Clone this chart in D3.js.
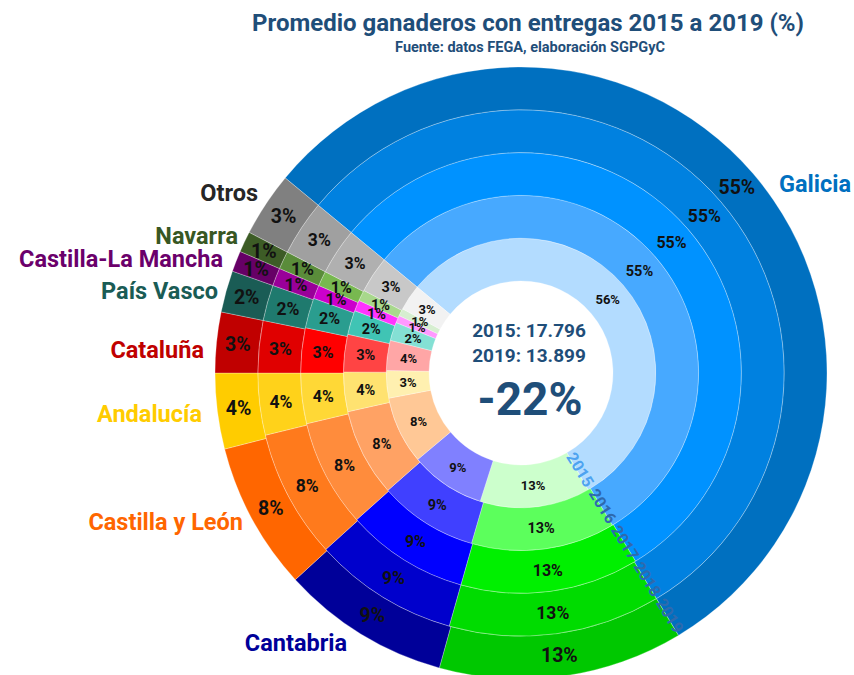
<!DOCTYPE html>
<html><head><meta charset="utf-8">
<script src="https://cdn.jsdelivr.net/npm/d3@7"></script>
<style>
html,body{margin:0;padding:0;background:#fff;}
svg{display:block;font-family:Roboto,"DejaVu Sans",sans-serif;}
</style></head>
<body>
<svg id="chart" width="854" height="675"></svg>
<script>
// ---- data ----
const categories = ["Galicia","Asturias","Cantabria","Castilla y León","Andalucía","Cataluña","País Vasco","Castilla-La Mancha","Navarra","Otros"];
const years = ["2015","2016","2017","2018","2019"];
const share2015 = [55.7,13.2,9.0,8.1,3.3,3.6,2.2,0.9,0.9,3.1];
const share2016 = [55.4,13.1,9.0,8.0,3.6,3.4,2.2,1.0,1.0,3.3];
const share2017 = [55.3,13.1,9.0,7.9,3.7,3.3,2.2,1.0,1.1,3.4];
const share2018 = [55.4,13.0,8.9,7.9,3.8,3.2,2.2,1.1,1.1,3.4];
const share2019 = [55.4,12.9,8.9,7.8,4.0,3.2,2.2,1.1,1.1,3.4];
const shares = [share2015,share2016,share2017,share2018,share2019];
const total2015 = "17.796";
const total2019 = "13.899";
const change = "-22%";

// colours per category, inner (2015) to outer (2019)
const palette = {
  "Galicia":["#B3DCFF","#47A9FF","#0092FF","#0081E0","#0070C0"],
  "Asturias":["#CCFFCC","#5CFF5C","#00F000","#00DC00","#00C800"],
  "Cantabria":["#8080FF","#4040FF","#0000FF","#0000CC","#000099"],
  "Castilla y León":["#FFC896","#FFA264","#FF8C3C","#FF7A1C","#FF6600"],
  "Andalucía":["#FFF0B0","#FFE270","#FFD836","#FFD21A","#FFCC00"],
  "Cataluña":["#FFA6A6","#FF4444","#FF0000","#E00000","#C00000"],
  "País Vasco":["#84E0D4","#40C4B4","#2A9D8F","#1F7A6E","#1A5C55"],
  "Castilla-La Mancha":["#FF99FF","#FF33FF","#CC00CC","#990099","#660066"],
  "Navarra":["#D6EED0","#A8D88C","#78B850","#5A8C3A","#3D5C26"],
  "Otros":["#F2F2F2","#C8C8C8","#B0B0B0","#A0A0A0","#808080"]
};
const labelColor = {
  "Galicia":"#0070C0","Cantabria":"#000099","Castilla y León":"#FF6600","Andalucía":"#FFCC00",
  "Cataluña":"#C00000","País Vasco":"#1A5C55","Castilla-La Mancha":"#6B006B","Navarra":"#385723","Otros":"#262626"
};
// label layout (position of category names)
const labelPos = {
  "Galicia":[779,192,"start"],"Otros":[258,201,"end"],"Navarra":[238,244,"end"],
  "Castilla-La Mancha":[223,267,"end"],"País Vasco":[218,299,"end"],"Cataluña":[204,358,"end"],
  "Andalucía":[202,422,"end"],"Castilla y León":[243,530,"end"],"Cantabria":[296,651,"middle"]
};

const svg = d3.select("#chart");
const cx = 521, cy = 373, r0 = 92, rOuter = 306;
const ringW = (rOuter - r0) / years.length;
const startA = -50.4 * Math.PI / 180;

const g = svg.append("g").attr("transform", `translate(${cx},${cy})`);
const pie = d3.pie().sort(null).value(d => d.v).startAngle(startA).endAngle(startA + 2*Math.PI);
const fontSizes = [13, 14.5, 16, 17.5, 19.5];

years.forEach((yr, i) => {
  const data = categories.map((c, k) => ({cat: c, v: shares[i][k]}));
  const arcs = pie(data);
  const arc = d3.arc().innerRadius(r0 + i*ringW).outerRadius(r0 + (i+1)*ringW);
  const ring = g.append("g");
  ring.selectAll("path").data(arcs).enter().append("path")
    .attr("d", arc)
    .attr("fill", d => palette[d.data.cat][i])
    .attr("stroke", "#ffffff").attr("stroke-opacity", 0.35).attr("stroke-width", 0.8);
  ring.selectAll("text").data(arcs).enter().append("text")
    .attr("transform", d => `translate(${arc.centroid(d)})`)
    .attr("text-anchor", "middle").attr("dy", "0.35em")
    .attr("font-size", fontSizes[i]).attr("font-weight", 700).attr("fill", "#111")
    .text(d => Math.round(d.data.v) + "%");
});

// year labels along the Galicia / next boundary
const boundA = pie(categories.map((c,k)=>({cat:c,v:share2019[k]})))[0].endAngle;
years.forEach((yr, i) => {
  const rm = r0 + (i + 0.5) * ringW;
  const a = boundA - 0.01;
  const x = Math.sin(a) * rm, y = -Math.cos(a) * rm;
  const rot = a * 180 / Math.PI - 90;
  g.append("text")
    .attr("transform", `translate(${x},${y}) rotate(${rot})`)
    .attr("text-anchor", "middle").attr("dy", "0.35em")
    .attr("font-size", 16).attr("font-weight", 700)
    .attr("textLength", 37).attr("lengthAdjust", "spacingAndGlyphs")
    .attr("fill", i === 0 ? "#4DA3F0" : "#2E6AAE")
    .text(yr);
});

// category labels
categories.forEach(c => {
  if (!labelPos[c]) return;
  const [x, y, anchor] = labelPos[c];
  svg.append("text").attr("x", x).attr("y", y).attr("text-anchor", anchor)
    .attr("font-size", 23.5).attr("font-weight", 700).attr("fill", labelColor[c]).text(c);
});

// centre text
const navy = "#1F4E79";
svg.append("text").attr("x", 529).attr("y", 337).attr("text-anchor","middle")
  .attr("font-size", 19).attr("font-weight", 700).attr("fill", navy).text("2015: " + total2015);
svg.append("text").attr("x", 529).attr("y", 362).attr("text-anchor","middle")
  .attr("font-size", 19).attr("font-weight", 700).attr("fill", navy).text("2019: " + total2019);
svg.append("text").attr("x", 530).attr("y", 415).attr("text-anchor","middle")
  .attr("font-size", 46).attr("font-weight", 700).attr("fill", navy).text(change);

// titles
svg.append("text").attr("x", 528).attr("y", 31).attr("text-anchor","middle")
  .attr("font-size", 24).attr("font-weight", 700).attr("fill", navy)
  .text("Promedio ganaderos con entregas 2015 a 2019 (%)");
svg.append("text").attr("x", 530).attr("y", 52).attr("text-anchor","middle")
  .attr("font-size", 14.5).attr("font-weight", 700).attr("fill", navy)
  .text("Fuente: datos FEGA, elaboración SGPGyC");
</script>
</body></html>
